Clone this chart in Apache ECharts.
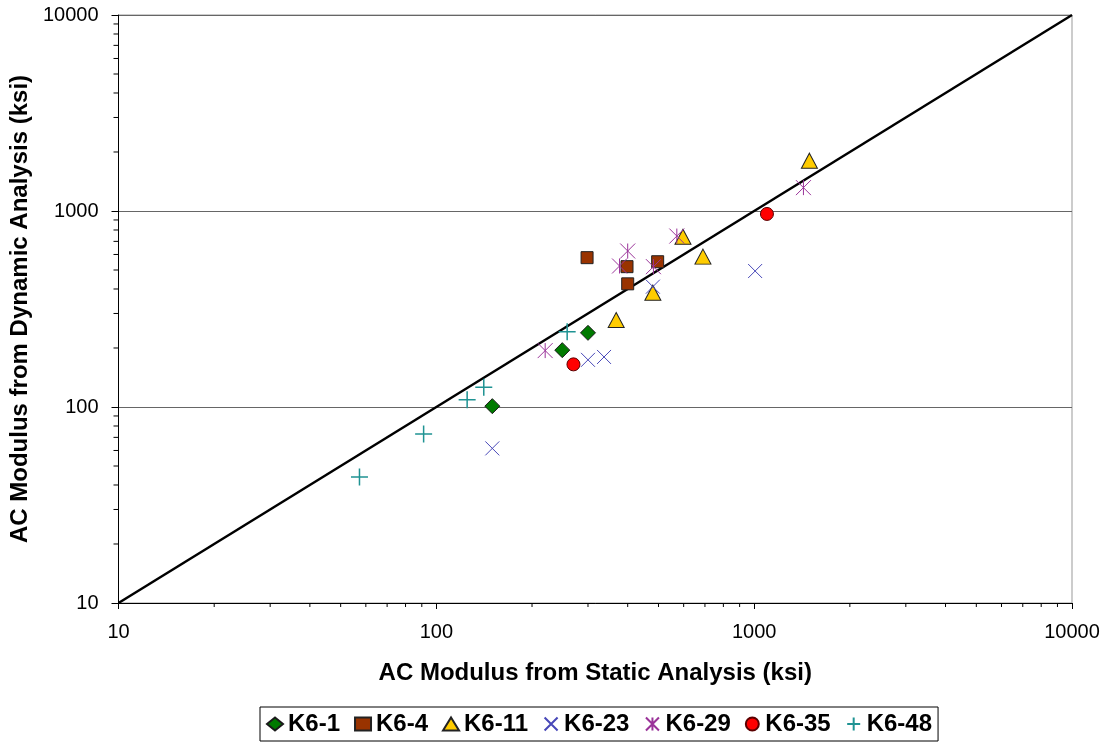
<!DOCTYPE html>
<html>
<head>
<meta charset="utf-8">
<script src="https://cdn.jsdelivr.net/npm/echarts@6/dist/echarts.min.js"></script>
<style>
  html, body { margin: 0; padding: 0; background: #fff; }
  #chart { width: 1108px; height: 746px; }
</style>
</head>
<body>
<div id="chart"></div>
<script>
// static vs dynamic modulus (ksi)
const k6_1 = [[150, 101], [249, 195], [300, 239]];
const k6_4 = [[298, 578], [398, 520], [400, 425], [497, 551]];
const k6_11 = [[368, 278], [480, 383], [597, 739], [690, 585], [1492, 1806]];
const k6_23 = [[150, 61.5], [300, 174], [337, 180], [480, 411], [1007, 494]];
const k6_29 = [[220, 194], [377, 524], [400, 625], [482, 520], [571, 745], [1429, 1316]];
const k6_35 = [[270, 165], [1097, 966]];
const k6_48 = [[57.3, 44], [91.2, 72.8], [125, 109], [141, 126], [258, 242]];
const equalityLine = [[10, 10], [10000, 10000]];
const minorTickValues = [20, 30, 40, 50, 60, 70, 80, 90, 200, 300, 400, 500, 600, 700, 800, 900,
  2000, 3000, 4000, 5000, 6000, 7000, 8000, 9000];

const FONT = 'Arial, "Liberation Sans", sans-serif';

const chart = echarts.init(document.getElementById('chart'));

// 散点系列的通用写法
function scatter(name, data, symbol, size, style) {
  return { name, type: 'scatter', data, symbol, symbolSize: size, itemStyle: Object.assign({ opacity: 1 }, style), z: 5 };
}

// 对数轴的次刻度，自己画
function minorTicks(isX) {
  return {
    type: 'custom',
    silent: true,
    clip: false,
    z: 10,
    data: minorTickValues.map(v => (isX ? [v, 10] : [10, v])),
    renderItem(params, api) {
      const p = api.coord([api.value(0), api.value(1)]);
      const shape = isX
        ? { x1: p[0], y1: p[1], x2: p[0], y2: p[1] + 4 }
        : { x1: p[0], y1: p[1], x2: p[0] - 5, y2: p[1] };
      return { type: 'line', shape, style: { stroke: '#000', lineWidth: 1 } };
    }
  };
}

chart.setOption({
  animation: false,
  textStyle: { fontFamily: FONT },
  grid: { left: 118, right: 36, top: 15, bottom: 143, show: true, borderColor: '#999', borderWidth: 1 },
  xAxis: {
    type: 'log', logBase: 10, min: 10, max: 10000,
    name: 'AC Modulus from Static Analysis (ksi)',
    nameLocation: 'middle', nameGap: 58,
    nameTextStyle: { fontSize: 24, fontWeight: 'bold', color: '#000', fontFamily: FONT },
    axisLine: { lineStyle: { color: '#000', width: 1 } },
    axisTick: { length: 6, lineStyle: { color: '#000' } },
    axisLabel: { fontSize: 20, color: '#000', margin: 19, fontFamily: FONT, formatter: v => String(v) },
    splitLine: { show: false }
  },
  yAxis: {
    type: 'log', logBase: 10, min: 10, max: 10000,
    name: 'AC Modulus from Dynamic Analysis (ksi)',
    nameLocation: 'middle', nameGap: 66,
    nameTextStyle: { fontSize: 24, fontWeight: 'bold', color: '#000', fontFamily: FONT },
    axisLine: { lineStyle: { color: '#000', width: 1 } },
    axisTick: { length: 7, lineStyle: { color: '#000' } },
    axisLabel: { fontSize: 20, color: '#000', margin: 20, fontFamily: FONT, formatter: v => String(v) },
    splitLine: { show: true, lineStyle: { color: '#666', width: 1.2 } }
  },
  legend: {
    top: 707,
    left: 260,
    data: ['K6-1', 'K6-4', 'K6-11', 'K6-23', 'K6-29', 'K6-35', 'K6-48'],
    itemWidth: 16, itemHeight: 13, itemGap: 14,
    borderColor: '#000', borderWidth: 1, borderRadius: 0,
    padding: [5, 6],
    textStyle: { fontSize: 24, fontWeight: 'bold', color: '#000', fontFamily: FONT }
  },
  series: [
    {
      name: 'equality', type: 'line', data: equalityLine, symbol: 'none', silent: true,
      lineStyle: { color: '#000', width: 2.5 }, z: 3
    },
    scatter('K6-1', k6_1, 'diamond', 15, { color: '#007a00', borderColor: '#1a1a1a', borderWidth: 1 }),
    scatter('K6-4', k6_4, 'rect', 12, { color: '#993300', borderColor: '#222', borderWidth: 1 }),
    scatter('K6-11', k6_11, 'triangle', [16, 15], { color: '#ffcc00', borderColor: '#222', borderWidth: 1 }),
    scatter('K6-23', k6_23, 'path://M0,0L10,10M10,0L0,10', 14,
      { color: 'none', borderColor: '#4848b8', borderWidth: 1 }),
    scatter('K6-29', k6_29, 'path://M0,0L10,10M10,0L0,10M5,0L5,10', 15,
      { color: 'none', borderColor: '#9a3399', borderWidth: 1 }),
    scatter('K6-35', k6_35, 'circle', 13, { color: '#ff0000', borderColor: '#5a0000', borderWidth: 1 }),
    scatter('K6-48', k6_48, 'path://M5,0L5,10M0,5L10,5', 17,
      { color: 'none', borderColor: '#1f9393', borderWidth: 1.5 }),
    minorTicks(true),
    minorTicks(false)
  ]
});
</script>
</body>
</html>
